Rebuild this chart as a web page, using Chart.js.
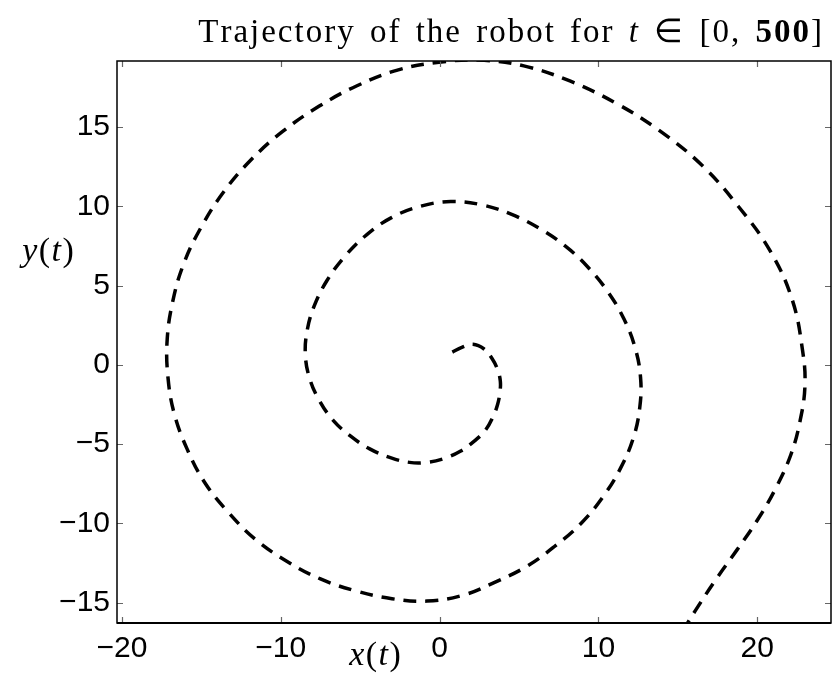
<!DOCTYPE html>
<html>
<head>
<meta charset="utf-8">
<script src="https://cdn.jsdelivr.net/npm/chart.js@4.4.1/dist/chart.umd.min.js"></script>
<style>
  html, body { margin: 0; padding: 0; background: #fff; }
  #wrap { width: 835px; height: 678px; }
</style>
</head>
<body>
<div id="wrap"><canvas id="traj" width="835" height="678"></canvas></div>
<script>
// robot path, sampled along the spiral from the inner end outwards
const pathX = [
  0.8, 1.4, 2.1, 2.8, 3.3, 3.65, 3.82, 3.8, 3.65, 3.35, 2.9, 2.2, 1.3, 0.3, -0.8,
  -1.9, -3.1, -4.4, -5.6, -6.7, -7.6, -8.2, -8.45, -8.35, -7.9, -7.1, -6.0, -4.6,
  -3.0, -1.2, 0.7, 2.6, 4.5, 6.3, 7.9, 9.3, 10.6, 11.6, 12.3, 12.65, 12.6, 12.2,
  11.4, 10.3, 8.9, 7.3, 5.5, 3.5, 1.4, -0.8, -3.0, -5.3, -7.5, -9.6, -11.6, -13.3,
  -14.8, -15.9, -16.7, -17.1, -17.15, -16.8, -16.1, -15.0, -13.6, -11.9, -9.9,
  -7.6, -5.2, -2.6, 0.1, 2.8, 5.3, 8.2, 11.1, 13.8, 16.5, 18.8, 20.8, 22.2, 22.85,
  23.0, 22.7, 22.1, 21.1, 20.0, 18.7, 17.35, 16.1, 15.35
];
const pathY = [
  0.8, 1.1, 1.3, 1.0, 0.4, -0.3, -1.0, -1.7, -2.5, -3.3, -4.1, -4.8, -5.45, -5.9, -6.15,
  -6.15, -5.85, -5.3, -4.5, -3.5, -2.2, -0.8, 0.6, 2.1, 3.7, 5.3, 6.8, 8.2,
  9.3, 10.0, 10.3, 10.1, 9.5, 8.6, 7.5, 6.2, 4.6, 2.9, 1.1, -0.8, -2.7, -4.6,
  -6.5, -8.3, -10.0, -11.4, -12.7, -13.7, -14.55, -14.9, -14.75, -14.25, -13.5, -12.4, -11.0, -9.3,
  -7.4, -5.3, -3.1, -0.8, 1.6, 4.0, 6.4, 8.7, 10.9, 12.9, 14.7,
  16.3, 17.6, 18.6, 19.1, 19.2, 18.85, 17.9, 16.5, 14.8, 12.6, 10.0, 7.2, 4.1, 0.9,
  -1.3, -3.5, -5.7, -7.9, -9.8, -11.7, -13.6, -15.5, -16.7
];

const xTicks = [-20, -10, 0, 10, 20];
const yTicks = [-15, -10, -5, 0, 5, 10, 15];
const xRange = [-20.31, 24.64];
const yRange = [-16.28, 19.16];

const tickFont = { family: 'Liberation Sans, Arial, sans-serif', size: 30 };
const serif = 'Liberation Serif, Times New Roman, serif';

function minus(v) {
  return v < 0 ? '\u2212' + Math.abs(v) : String(v);
}

// draw text pieces char by char so letter and word spacing can be widened
function drawPieces(ctx, pieces, x, y, align, ls, ws) {
  const step = (ch) => ctx.measureText(ch).width + ls + (ch === ' ' ? ws : 0);
  let total = 0;
  pieces.forEach(p => {
    ctx.font = p.font;
    for (const ch of p.text) total += step(ch);
  });
  total -= ls;
  let cx = align === 'right' ? x - total : (align === 'center' ? x - total / 2 : x);
  ctx.textAlign = 'left';
  pieces.forEach(p => {
    ctx.font = p.font;
    for (const ch of p.text) {
      ctx.fillText(ch, cx, y);
      cx += step(ch);
    }
  });
}

// box around the axes, inward tick marks, title and axis labels
const frame = {
  id: 'frame',
  afterDatasetsDraw(chart) {
    const ctx = chart.ctx;
    const a = chart.chartArea;
    const sx = chart.scales.x, sy = chart.scales.y;
    const tl = 6;
    ctx.save();
    ctx.strokeStyle = '#666';
    ctx.lineWidth = 1.2;
    ctx.beginPath();
    xTicks.forEach(v => {
      const px = Math.round(sx.getPixelForValue(v)) + 0.5;
      ctx.moveTo(px, a.bottom); ctx.lineTo(px, a.bottom - tl);
      ctx.moveTo(px, a.top); ctx.lineTo(px, a.top + tl);
    });
    yTicks.forEach(v => {
      const py = Math.round(sy.getPixelForValue(v)) + 0.5;
      ctx.moveTo(a.left, py); ctx.lineTo(a.left + tl, py);
      ctx.moveTo(a.right, py); ctx.lineTo(a.right - tl, py);
    });
    ctx.stroke();

    ctx.strokeStyle = '#000';
    ctx.lineWidth = 1.5;
    ctx.strokeRect(a.left, a.top, a.right - a.left, a.bottom - a.top);
    ctx.lineWidth = 2;
    ctx.beginPath();
    ctx.moveTo(a.left, a.bottom); ctx.lineTo(a.right, a.bottom);
    ctx.stroke();

    ctx.fillStyle = '#000';
    ctx.textBaseline = 'alphabetic';
    const up = '33px ' + serif;
    const it = 'italic 33px ' + serif;
    const bd = 'bold 33px ' + serif;
    drawPieces(ctx, [
      { text: 'Trajectory of the robot for ', font: up },
      { text: 't', font: it },
      { text: ' \u2208 [0, ', font: up },
      { text: '500', font: bd },
      { text: ']', font: up }
    ], 822, 42, 'right', 2, 4);

    const lf = 'italic 34px ' + serif;
    const lu = '34px ' + serif;
    drawPieces(ctx, [
      { text: 'x', font: lf }, { text: '(', font: lu }, { text: 't', font: lf }, { text: ')', font: lu }
    ], 375, 665, 'center', 1.5, 0);
    drawPieces(ctx, [
      { text: 'y', font: lf }, { text: '(', font: lu }, { text: 't', font: lf }, { text: ')', font: lu }
    ], 48, 261, 'center', 1.5, 0);
    ctx.restore();
  }
};

const ctx = document.getElementById('traj').getContext('2d');
new Chart(ctx, {
  type: 'scatter',
  data: {
    datasets: [{
      data: pathX.map((x, i) => ({ x: x, y: pathY[i] })),
      showLine: true,
      borderColor: '#000',
      borderWidth: 3.5,
      borderDash: [13, 9],
      pointRadius: 0,
      tension: 0.4,
      fill: false
    }]
  },
  options: {
    responsive: false,
    animation: false,
    layout: { padding: { top: 61, right: 4, left: 0, bottom: 0 } },
    plugins: { legend: { display: false }, tooltip: { enabled: false } },
    scales: {
      x: {
        type: 'linear',
        min: xRange[0], max: xRange[1],
        grid: { display: false, drawTicks: false },
        border: { display: false },
        afterBuildTicks: s => { s.ticks = xTicks.map(v => ({ value: v })); },
        afterFit: s => { s.height = 55; },
        ticks: {
          color: '#000', font: tickFont, padding: 8, maxRotation: 0,
          callback: v => minus(v)
        }
      },
      y: {
        type: 'linear',
        min: yRange[0], max: yRange[1],
        grid: { display: false, drawTicks: false },
        border: { display: false },
        afterBuildTicks: s => { s.ticks = yTicks.map(v => ({ value: v })); },
        afterFit: s => { s.width = 117; },
        ticks: {
          color: '#000', font: tickFont, padding: 7,
          callback: v => minus(v)
        }
      }
    }
  },
  plugins: [frame]
});
</script>
</body>
</html>
